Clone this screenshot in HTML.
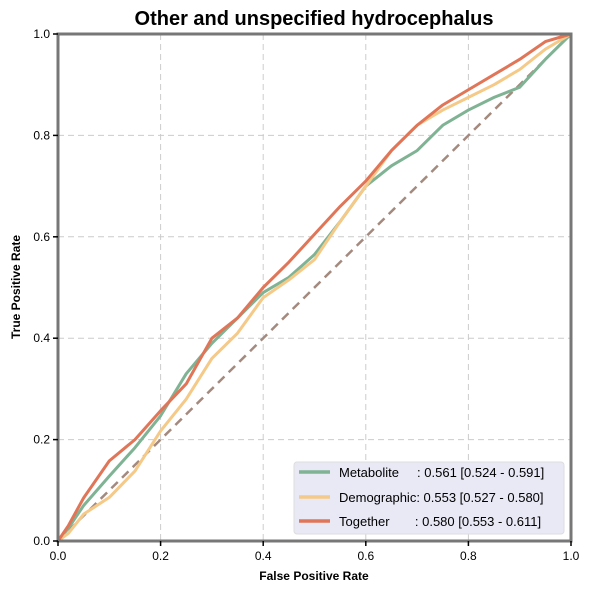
<!DOCTYPE html>
<html><head><meta charset="utf-8"><style>
body{margin:0;background:#fff;font-family:"Liberation Sans",sans-serif}
</style></head><body>
<svg id="chart" width="591" height="592" xmlns="http://www.w3.org/2000/svg" font-family="Liberation Sans, sans-serif">
<text x="314" y="25" text-anchor="middle" font-size="20" font-weight="bold">Other and unspecified hydrocephalus</text>
<g id="grid"></g>
<g id="series"></g>
<rect x="58" y="34" width="513" height="507" fill="none" stroke="#777" stroke-width="3"/>
<g id="ticks"></g>
<text x="314" y="580" text-anchor="middle" font-size="12" font-weight="bold">False Positive Rate</text>
<text transform="translate(20,287) rotate(-90)" text-anchor="middle" font-size="12" font-weight="bold">True Positive Rate</text>
<g>
<rect x="294" y="462" width="270" height="72" rx="3" fill="#e9e9f6" stroke="#ddd"/>
<line x1="299" y1="472" x2="330" y2="472" stroke="#7fb394" stroke-width="3.5"/>
<line x1="299" y1="497" x2="330" y2="497" stroke="#f5c987" stroke-width="3.5"/>
<line x1="299" y1="521" x2="330" y2="521" stroke="#e07558" stroke-width="3.5"/>
<text x="339" y="477" font-size="13" xml:space="preserve">Metabolite     : 0.561 [0.524 - 0.591]</text>
<text x="339" y="502" font-size="13">Demographic: 0.553 [0.527 - 0.580]</text>
<text x="339" y="526" font-size="13" xml:space="preserve">Together       : 0.580 [0.553 - 0.611]</text>
</g>
</svg>
<script>
const fprGrid=[0,0.02,0.05,0.1,0.15,0.2,0.25,0.3,0.35,0.4,0.45,0.5,0.55,0.6,0.65,0.7,0.75,0.8,0.85,0.9,0.95,1];
const metaboliteTpr=[0,0.025,0.07,0.128,0.184,0.247,0.33,0.39,0.44,0.49,0.52,0.565,0.63,0.70,0.74,0.77,0.82,0.85,0.875,0.895,0.95,1];
const demographicTpr=[0,0.015,0.053,0.086,0.138,0.217,0.28,0.36,0.41,0.48,0.515,0.555,0.63,0.70,0.77,0.82,0.85,0.875,0.9,0.93,0.97,1];
const togetherTpr=[0,0.03,0.085,0.158,0.20,0.257,0.31,0.40,0.44,0.50,0.55,0.605,0.66,0.71,0.77,0.82,0.86,0.89,0.92,0.95,0.985,1];
const tickLabels=["0.0","0.2","0.4","0.6","0.8","1.0"];
const tickValues=[0,0.2,0.4,0.6,0.8,1];
const X=v=>58+v*513, Y=v=>541-v*507;
const NS="http://www.w3.org/2000/svg";
const grid=document.getElementById('grid'),ser=document.getElementById('series'),tk=document.getElementById('ticks');
function mk(t,a,p){const e=document.createElementNS(NS,t);for(const k in a)e.setAttribute(k,a[k]);p.appendChild(e);return e;}
tickValues.forEach((v,i)=>{
 if(v>0&&v<1){
  const gx=mk('line',{x1:X(v),x2:X(v),y1:34,y2:541,stroke:'#ccc','stroke-dasharray':'6,4'},grid);
  
  
  const gy=mk('line',{x1:58,x2:571,y1:Y(v),y2:Y(v),stroke:'#ccc','stroke-dasharray':'6,4'},grid);
  
  
 }
 mk('line',{x1:X(v),x2:X(v),y1:541,y2:546,stroke:'#000','stroke-width':1.5},tk);
 mk('line',{x1:53,x2:58,y1:Y(v),y2:Y(v),stroke:'#000','stroke-width':1.5},tk);
 const xl=mk('text',{x:X(v),y:560,'text-anchor':'middle','font-size':12},tk);xl.textContent=tickLabels[i];
 
 
 const yl=mk('text',{x:50,y:Y(v)+4,'text-anchor':'end','font-size':12},tk);yl.textContent=tickLabels[i];
 
 
});
const diag=mk('line',{x1:X(0),y1:Y(0),x2:X(1),y2:Y(1),stroke:'#a48a7e','stroke-width':2.5,'stroke-dasharray':'9,6'},ser);


function curve(tpr,color,name){
 const p=mk('polyline',{points:fprGrid.map((f,i)=>X(f)+','+Y(tpr[i])).join(' '),fill:'none',stroke:color,'stroke-width':3,'stroke-linejoin':'round'},ser);
 
 
}
curve(metaboliteTpr,'#7fb394','metabolite-roc-curve');
curve(demographicTpr,'#f5c987','demographic-roc-curve');
curve(togetherTpr,'#e07558','together-roc-curve');
</script>
</body></html>
